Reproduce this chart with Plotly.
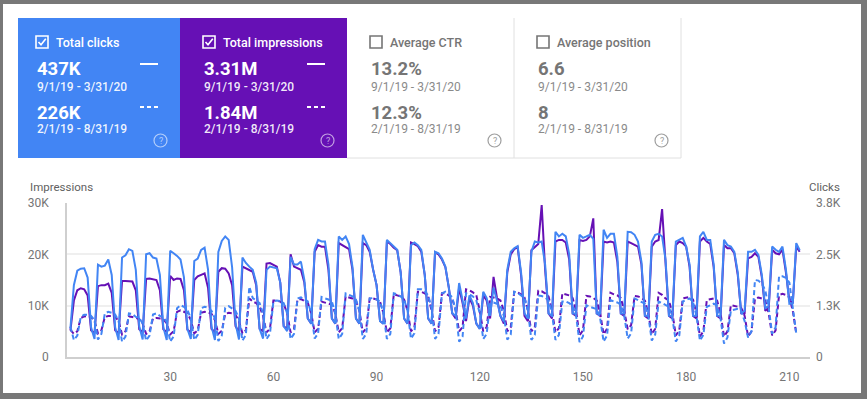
import plotly.graph_objects as go

# ---------------- data ----------------
# current period 9/1/19 - 3/31/20, day 1 = Sunday
clicks_cur = [
    710, 1770, 2130, 2180, 2190, 1960, 735,
    445, 2280, 2230, 2255, 2405, 2025, 735,
    420, 2455, 2510, 2660, 2620, 2150, 760,
    430, 2535, 2560, 2455, 2430, 2025, 735,
    420, 2620, 2560, 2495, 2405, 1965, 695,
    445, 2370, 2430, 2645, 2700, 2155, 760,
    420, 2595, 2865, 2975, 2890, 2215, 825,
    430, 2455, 2320, 2230, 2150, 1835, 695,
    455, 2150, 2230, 2205, 2190, 1835, 760,
    635, 2470, 2280, 2280, 2355, 1900, 950,
    825, 2660, 2890, 2850, 2850, 2280, 950,
    825, 2975, 2890, 2975, 2785, 2215, 950,
    825, 3015, 2850, 2645, 2155, 1775, 885,
    825, 2890, 2810, 2725, 2645, 2090, 950,
    825, 2760, 2825, 2760, 2645, 2025, 950,
    825, 2595, 2560, 2430, 2230, 1710, 1075,
    1015, 1825, 1395, 950, 1520, 1330, 825,
    695, 1610, 1455, 1015, 1710, 1395, 1015,
    875, 2155, 2595, 2685, 2735, 2090, 1075,
    950, 2595, 2850, 2825, 2850, 2280, 1075,
    1015, 3090, 2975, 3040, 2975, 2535, 1075,
    1075, 3015, 2940, 2975, 3015, 2915, 1075,
    1075, 3140, 2940, 3040, 3040, 2470, 1075,
    1075, 3090, 3080, 3015, 2850, 2345, 1015,
    1015, 2850, 3015, 3040, 2975, 2405, 1015,
    1015, 2850, 2890, 2940, 2725, 2280, 1015,
    1015, 2975, 3090, 2890, 2890, 2280, 1015,
    1015, 2890, 2760, 2725, 2595, 2090, 1075,
    1140, 2595, 2595, 2645, 2520, 2025, 1205,
    1265, 2725, 2645, 2595, 2725, 2155, 1315,
    1330, 2810, 2635,
]
impr_cur = [
    5200, 11000, 13000, 13400, 13200, 12000, 5200,
    4600, 13800, 14000, 14000, 14300, 12500, 5200,
    4600, 14800, 14800, 14800, 14700, 13000, 5400,
    4800, 15200, 15300, 15100, 15000, 13000, 5400,
    4800, 15800, 15000, 15300, 15200, 13000, 5300,
    4800, 15000, 15700, 16000, 16300, 13500, 5500,
    4800, 16600, 17300, 17200, 16300, 14000, 6000,
    4800, 17600, 17300, 17000, 16600, 14000, 5500,
    5000, 18200, 18300, 18000, 17600, 14500, 6000,
    5500, 20000, 17600, 17300, 17000, 14500, 7500,
    6500, 20500, 21800, 21500, 21500, 17000, 7500,
    6500, 22200, 21800, 21500, 21000, 17000, 7500,
    6500, 22200, 21800, 20500, 17000, 14000, 7000,
    6500, 22500, 22000, 21300, 20800, 16500, 7500,
    6500, 22300, 22000, 21600, 20500, 16000, 7500,
    6500, 20400, 20000, 19000, 17500, 13500, 8500,
    7500, 13500, 10500, 7000, 11500, 10000, 6500,
    5500, 12000, 11000, 7500, 15600, 11500, 8000,
    6500, 16500, 20000, 21000, 21400, 16000, 8000,
    7000, 20800, 21500, 22000, 29600, 17000, 8500,
    7500, 22500, 22800, 22800, 22300, 19000, 8500,
    8000, 22800, 22600, 22800, 23500, 27000, 8500,
    8000, 22500, 22300, 22500, 22300, 18500, 8500,
    8000, 22500, 22200, 21800, 21500, 18000, 8000,
    7500, 21500, 22500, 22800, 28800, 18500, 8000,
    7500, 21800, 22500, 22200, 21500, 17500, 8000,
    7500, 22500, 23200, 22500, 22000, 17500, 8000,
    7500, 21800, 21200, 21200, 20200, 16000, 8500,
    8500, 19200, 19500, 20200, 19500, 15500, 9000,
    9500, 20900, 20200, 20000, 20900, 16500, 11000,
    10500, 21500, 20500,
]
# previous period 2/1/19 - 8/31/19, day 1 = Friday
clicks_prev = [
    745,
    420, 530, 990, 1040, 1040, 1015, 910,
    430, 570, 1075, 1115, 1090, 1050, 885,
    380, 505, 1075, 1065, 990, 965, 825,
    405, 530, 1050, 1075, 1015, 990, 860,
    380, 505, 1205, 1280, 1240, 1165, 950,
    420, 545, 1205, 1240, 1215, 1140, 950,
    395, 530, 1215, 1255, 1205, 1140, 950,
    405, 545, 1735, 1455, 1395, 1330, 1075,
    445, 570, 1370, 1395, 1380, 1330, 1075,
    445, 570, 1445, 1470, 1420, 1370, 1075,
    455, 585, 1480, 1445, 1420, 1370, 1075,
    445, 570, 1570, 1535, 1495, 1420, 1140,
    445, 570, 1445, 1455, 1420, 1370, 1075,
    445, 570, 1570, 1545, 1495, 1420, 1140,
    455, 585, 1670, 1670, 1620, 1520, 1205,
    445, 570, 1570, 1610, 1560, 1470, 1140,
    380, 505, 1570, 1545, 1495, 1395, 1075,
    445, 570, 1315, 1345, 1315, 1265, 1015,
    430, 555, 1610, 1585, 1520, 1455, 1140,
    420, 545, 1520, 1505, 1470, 1395, 1075,
    420, 545, 1370, 1370, 1330, 1265, 1015,
    365, 505, 1280, 1240, 1215, 1180, 950,
    380, 530, 1405, 1370, 1345, 1290, 1015,
    455, 585, 1445, 1405, 1370, 1315, 1015,
    405, 555, 1370, 1330, 1280, 1240, 950,
    380, 530, 1370, 1405, 1445, 1345, 1015,
    405, 545, 1240, 1280, 1315, 1265, 950,
    330, 480, 1150, 1165, 1190, 1140, 885,
    480, 635, 1900, 1885, 1810, 1645, 1205,
    570, 735, 1990, 1990, 1950, 1835, 1265,
    585,
]
impr_prev = [
    5300,
    4500, 5000, 7600, 7900, 8000, 7800, 7000,
    4600, 5200, 7800, 8000, 8000, 7800, 7000,
    4400, 5000, 7900, 7800, 7600, 7400, 6500,
    4500, 5000, 7500, 7600, 7500, 7400, 6500,
    4400, 5000, 8800, 9100, 8800, 8500, 7200,
    4600, 5200, 8600, 8800, 8700, 8400, 7200,
    4500, 5100, 8400, 8600, 8500, 8200, 7000,
    4600, 5200, 11400, 10800, 10500, 9800, 8000,
    4800, 5500, 11000, 11000, 10800, 10400, 8500,
    4800, 5500, 11200, 11300, 11000, 10600, 8500,
    4800, 5500, 10800, 10600, 10400, 10200, 8500,
    4800, 5600, 11800, 11600, 11400, 11000, 9000,
    4800, 5600, 11400, 11400, 11200, 10800, 8500,
    4800, 5600, 12200, 12000, 11800, 11200, 9000,
    5000, 5800, 12700, 12700, 12400, 11800, 9000,
    5000, 5800, 12400, 12400, 12000, 11400, 9000,
    5000, 5800, 13200, 13000, 12600, 12000, 9000,
    5000, 5800, 11700, 11600, 11400, 11000, 9000,
    5000, 5800, 12700, 12600, 12200, 11600, 9000,
    5000, 5800, 12900, 12800, 12400, 11800, 9000,
    4800, 5600, 12400, 12200, 12000, 11500, 9000,
    4200, 5200, 11900, 11800, 11500, 11000, 8500,
    4400, 5500, 12500, 12200, 12000, 11500, 9000,
    5400, 6200, 11900, 11800, 11500, 11000, 8500,
    4400, 5500, 12500, 12100, 11400, 11000, 8500,
    4200, 5200, 11400, 11600, 11700, 11200, 8500,
    4000, 5000, 11100, 11200, 11400, 11000, 8500,
    4000, 5000, 10100, 10000, 9800, 9600, 8000,
    4000, 5000, 11400, 11600, 11400, 11000, 8500,
    4200, 5200, 12100, 12300, 12100, 11600, 9000,
    4600,
]
days_cur = list(range(1, len(clicks_cur) + 1))
days_prev = list(range(1, len(clicks_prev) + 1))

x_ticks = [30, 60, 90, 120, 150, 180, 210]
imp_ticks = [0, 10000, 20000, 30000]
imp_tick_text = ["0", "10K", "20K", "30K"]
clk_ticks = [0, 3800 / 3, 7600 / 3, 3800]
clk_tick_text = ["0", "1.3K", "2.5K", "3.8K"]

cards = [
    # title, current, previous, fill, checked
    ("Total clicks", "437K", "226K", "#4285f4", True),
    ("Total impressions", "3.31M", "1.84M", "#6610b5", True),
    ("Average CTR", "13.2%", "12.3%", "#ffffff", False),
    ("Average position", "6.6", "8", "#ffffff", False),
]
cur_range = "9/1/19 - 3/31/20"
prev_range = "2/1/19 - 8/31/19"

# ---------------- geometry ----------------
W, H = 867, 399
L, R, T, B = 67, 57, 203, 42
PW, PH = W - L - R, H - T - B

def X(px):
    return (px - L) / PW

def Y(py):
    return (H - B - py) / PH

BLUE = "#4285f4"
PURPLE = "#6610b5"
FONT = "Roboto"

fig = go.Figure()
dash = "5px,3px"
fig.add_trace(go.Scatter(x=days_prev, y=impr_prev, mode="lines", name="Impressions (prev)",
                         line=dict(color=PURPLE, width=2, dash=dash), yaxis="y"))
fig.add_trace(go.Scatter(x=days_cur, y=impr_cur, mode="lines", name="Impressions",
                         line=dict(color=PURPLE, width=2), yaxis="y"))
fig.add_trace(go.Scatter(x=days_prev, y=clicks_prev, mode="lines", name="Clicks (prev)",
                         line=dict(color=BLUE, width=2, dash=dash), yaxis="y2"))
fig.add_trace(go.Scatter(x=days_cur, y=clicks_cur, mode="lines", name="Clicks",
                         line=dict(color=BLUE, width=2), yaxis="y2"))

shapes = []
annotations = []

# white page inside grey frame
shapes.append(dict(type="rect", xref="paper", yref="paper", layer="below",
                   x0=X(3), x1=X(861), y0=Y(393), y1=Y(4),
                   fillcolor="white", line=dict(width=0)))

card_x = [(18, 180), (180, 347), (347, 514), (514, 681)]
cy0, cy1 = 18, 158
for i, ((title, cur, prev, fill, checked), (x0, x1)) in enumerate(zip(cards, card_x)):
    white = checked
    if checked:
        shapes.append(dict(type="rect", xref="paper", yref="paper", layer="below",
                           x0=X(x0), x1=X(x1), y0=Y(cy1), y1=Y(cy0),
                           fillcolor=fill, line=dict(width=0)))
    tcol = "white" if white else "#757575"
    dcol = "rgba(255,255,255,0.92)" if white else "#8a8a8a"
    bx = x0 + 18 if i == 0 else x0 + 23
    # checkbox
    shapes.append(dict(type="rect", xref="paper", yref="paper",
                       x0=X(bx), x1=X(bx + 12), y0=Y(48), y1=Y(36),
                       line=dict(color=tcol, width=1.6), fillcolor="rgba(0,0,0,0)"))
    if checked:
        shapes.append(dict(type="path", xref="paper", yref="paper",
                           path=f"M {X(bx+2.5)},{Y(42)} L {X(bx+5)},{Y(44.8)} L {X(bx+9.8)},{Y(38.8)}",
                           line=dict(color="white", width=1.6)))
    tx = bx + 18
    annotations.append(dict(x=X(tx), y=Y(42), xref="paper", yref="paper", text=title,
                            showarrow=False, xanchor="left", yanchor="middle",
                            font=dict(family=FONT, size=12.5, color=tcol, weight=500)))
    vx = bx - 1
    annotations.append(dict(x=X(vx), y=Y(68.5), xref="paper", yref="paper", text=cur,
                            showarrow=False, xanchor="left", yanchor="middle",
                            font=dict(family=FONT, size=18.5, color=tcol, weight="bold")))
    annotations.append(dict(x=X(vx), y=Y(87), xref="paper", yref="paper", text=cur_range,
                            showarrow=False, xanchor="left", yanchor="middle",
                            font=dict(family=FONT, size=12, color=dcol, weight=500 if white else 400)))
    annotations.append(dict(x=X(vx), y=Y(112.5), xref="paper", yref="paper", text=prev,
                            showarrow=False, xanchor="left", yanchor="middle",
                            font=dict(family=FONT, size=18.5, color=tcol, weight="bold")))
    annotations.append(dict(x=X(vx), y=Y(129), xref="paper", yref="paper", text=prev_range,
                            showarrow=False, xanchor="left", yanchor="middle",
                            font=dict(family=FONT, size=12, color=dcol, weight=500 if white else 400)))
    if checked:
        shapes.append(dict(type="line", xref="paper", yref="paper",
                           x0=X(x1 - 40), x1=X(x1 - 22), y0=Y(64), y1=Y(64),
                           line=dict(color="white", width=2)))
        shapes.append(dict(type="line", xref="paper", yref="paper",
                           x0=X(x1 - 40), x1=X(x1 - 22), y0=Y(107), y1=Y(107),
                           line=dict(color="white", width=2, dash="4px,3px")))
    # help icon
    hx, hy, r = x1 - 19.5, 140.5, 6.5
    hcol = "rgba(255,255,255,0.6)" if white else "#9e9e9e"
    shapes.append(dict(type="circle", xref="paper", yref="paper",
                       x0=X(hx - r), x1=X(hx + r), y0=Y(hy + r), y1=Y(hy - r),
                       line=dict(color=hcol, width=1.2)))
    annotations.append(dict(x=X(hx), y=Y(hy), xref="paper", yref="paper", text="?",
                            showarrow=False, xanchor="center", yanchor="middle",
                            font=dict(family=FONT, size=9, color=hcol)))

# borders of unselected cards
bcol = "#e0e0e0"
for xv in (514, 681):
    shapes.append(dict(type="line", xref="paper", yref="paper", x0=X(xv), x1=X(xv),
                       y0=Y(158), y1=Y(18), line=dict(color=bcol, width=1)))
shapes.append(dict(type="line", xref="paper", yref="paper", x0=X(347), x1=X(681),
                   y0=Y(158), y1=Y(158), line=dict(color=bcol, width=1)))

# axis titles
annotations.append(dict(x=X(28), y=Y(187), xref="paper", yref="paper", text="Impressions",
                        showarrow=False, xanchor="left", yanchor="middle",
                        font=dict(family=FONT, size=11.5, color="#616161")))
annotations.append(dict(x=X(842), y=Y(187), xref="paper", yref="paper", text="Clicks",
                        showarrow=False, xanchor="right", yanchor="middle",
                        font=dict(family=FONT, size=11.5, color="#616161")))

tick_font = dict(family=FONT, size=12, color="#757575")
fig.update_layout(
    width=W, height=H,
    margin=dict(l=L, r=R, t=T, b=B, pad=0),
    paper_bgcolor="#787878",
    plot_bgcolor="rgba(0,0,0,0)",
    showlegend=False,
    shapes=shapes,
    annotations=annotations,
    xaxis=dict(range=[0, 216], tickvals=x_ticks, showgrid=False, zeroline=False,
               showline=True, linecolor="#cfcfcf", linewidth=2, ticks="",
               tickfont=tick_font, ticklabelstandoff=8),
    yaxis=dict(range=[0, 30000], tickvals=imp_ticks, ticktext=imp_tick_text,
               showgrid=True, gridcolor="#efefef", gridwidth=1.5, zeroline=False,
               showline=True, linecolor="#cfcfcf", linewidth=1.5, ticks="",
               tickfont=tick_font, ticklabelstandoff=14),
    yaxis2=dict(range=[0, 3800], tickvals=clk_ticks, ticktext=clk_tick_text,
                overlaying="y", side="right", showgrid=False, zeroline=False,
                showline=False, ticks="", tickfont=tick_font, ticklabelstandoff=5),
)

fig.write_html("out.html", config={"displayModeBar": False},
               post_script="document.body.style.margin='0';document.body.style.overflow='hidden';")
